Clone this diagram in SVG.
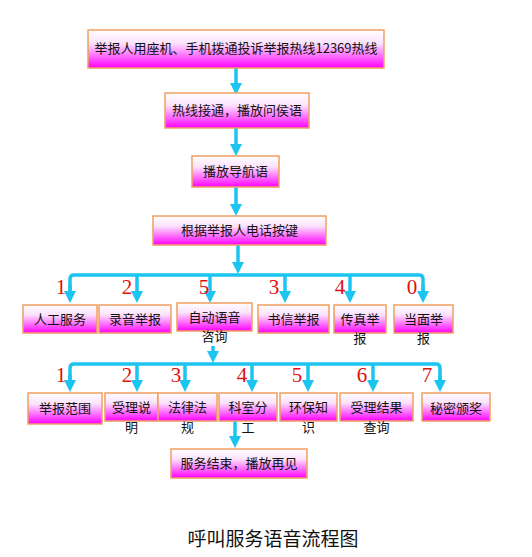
<svg xmlns="http://www.w3.org/2000/svg" width="532" height="557" viewBox="0 0 532 557">
<defs>
<linearGradient id="g" x1="0" y1="0" x2="0" y2="1">
<stop offset="0" stop-color="#ffffff"/>
<stop offset="0.35" stop-color="#fbe2fb"/>
<stop offset="1" stop-color="#ff00ff"/>
</linearGradient>
<marker id="ah" markerUnits="userSpaceOnUse" markerWidth="12" markerHeight="12" refX="0" refY="6" orient="auto">
<path d="M0,0 L12,6 L0,12 z" fill="#1cc4f0"/>
</marker>
<style>
.b{fill:url(#g);stroke:#f0a060;stroke-width:1.5}
.t{font-family:"Noto Sans CJK SC","Liberation Sans",sans-serif;font-size:13px;fill:#111;text-anchor:middle}
.n{font-family:"Liberation Serif",serif;font-size:21px;fill:#e01010;text-anchor:middle}
.c{fill:none;stroke:#1cc4f0;stroke-width:3.5}
.a{fill:none;stroke:#1cc4f0;stroke-width:3.5;marker-end:url(#ah)}
</style>
</defs>
<rect width="532" height="557" fill="#ffffff"/>
<g id="connectors">
<path class="a" d="M236,68 V83"/>
<path class="a" d="M236,128 V144"/>
<path class="a" d="M236,187 V204"/>
<path class="a" d="M238,245 V262"/>
<path class="c" d="M70,291 V279 Q70,275 74,275 H419 Q423,275 423,279 V291"/>
<path class="a" d="M70,285 V291"/>
<path class="a" d="M137,275 V291"/>
<path class="a" d="M210,275 V291"/>
<path class="a" d="M285,275 V291"/>
<path class="a" d="M350,275 V291"/>
<path class="a" d="M423,285 V291"/>
<path class="a" d="M213,346 V351"/>
<path class="c" d="M70,380 V368 Q70,364 74,364 H436 Q440,364 440,368 V380"/>
<path class="a" d="M70,375 V380"/>
<path class="a" d="M137,364 V380"/>
<path class="a" d="M185,364 V380"/>
<path class="a" d="M252,364 V380"/>
<path class="a" d="M308,364 V380"/>
<path class="a" d="M373,364 V380"/>
<path class="a" d="M440,375 V380"/>
<path class="a" d="M235,421 V436"/>
</g>
<g id="n-start"><rect class="b" x="88" y="30" width="296" height="38"/><text class="t" x="236" y="53">举报人用座机、手机拨通投诉举报热线12369热线</text></g>
<g id="n-connect"><rect class="b" x="165" y="93" width="144" height="35"/><text class="t" x="237" y="115">热线接通，播放问侯语</text></g>
<g id="n-nav"><rect class="b" x="192" y="156" width="87" height="31"/><text class="t" x="235.5" y="176">播放导航语</text></g>
<g id="n-key"><rect class="b" x="153" y="216" width="173" height="29"/><text class="t" x="239.5" y="235">根据举报人电话按键</text></g>
<g id="labels1">
<text class="n" x="61" y="294">1</text>
<text class="n" x="127" y="294">2</text>
<text class="n" x="204" y="294">5</text>
<text class="n" x="274" y="294">3</text>
<text class="n" x="340" y="294">4</text>
<text class="n" x="412" y="294">0</text>
</g>
<g id="n-manual"><rect class="b" x="23" y="305" width="74" height="28"/><text class="t" x="60" y="324">人工服务</text></g>
<g id="n-record"><rect class="b" x="99" y="305" width="72" height="28"/><text class="t" x="135" y="324">录音举报</text></g>
<g id="n-auto"><rect class="b" x="177" y="303" width="75" height="28"/><text class="t" x="214.5" y="322">自动语音</text><text class="t" x="214.5" y="341">咨询</text></g>
<g id="n-letter"><rect class="b" x="258" y="305" width="71" height="28"/><text class="t" x="293.5" y="324">书信举报</text></g>
<g id="n-fax"><rect class="b" x="334" y="305" width="52" height="28"/><text class="t" x="360" y="324">传真举</text><text class="t" x="360" y="343">报</text></g>
<g id="n-face"><rect class="b" x="394" y="305" width="59" height="28"/><text class="t" x="423.5" y="324">当面举</text><text class="t" x="423.5" y="343">报</text></g>
<g id="labels2">
<text class="n" x="61" y="382">1</text>
<text class="n" x="127" y="382">2</text>
<text class="n" x="176" y="382">3</text>
<text class="n" x="242" y="382">4</text>
<text class="n" x="297" y="382">5</text>
<text class="n" x="362" y="382">6</text>
<text class="n" x="427" y="382">7</text>
</g>
<g id="n-scope"><rect class="b" x="28" y="393" width="74" height="31"/><text class="t" x="65" y="413">举报范围</text></g>
<g id="n-accept"><rect class="b" x="105" y="393" width="53" height="28"/><text class="t" x="131.5" y="412">受理说</text><text class="t" x="131.5" y="432">明</text></g>
<g id="n-law"><rect class="b" x="158" y="393" width="59" height="28"/><text class="t" x="187.5" y="412">法律法</text><text class="t" x="187.5" y="432">规</text></g>
<g id="n-dept"><rect class="b" x="219" y="393" width="58" height="28"/><text class="t" x="248" y="412">科室分</text><text class="t" x="248" y="432">工</text></g>
<g id="n-env"><rect class="b" x="280" y="393" width="57" height="28"/><text class="t" x="308.5" y="412">环保知</text><text class="t" x="308.5" y="432">识</text></g>
<g id="n-result"><rect class="b" x="340" y="393" width="73" height="28"/><text class="t" x="376.5" y="412">受理结果</text><text class="t" x="376.5" y="432">查询</text></g>
<g id="n-reward"><rect class="b" x="422" y="393" width="68" height="28"/><text class="t" x="456" y="413">秘密颁奖</text></g>
<g id="n-end"><rect class="b" x="171" y="449" width="136" height="29"/><text class="t" x="239" y="468">服务结束，播放再见</text></g>
<text x="273" y="546" style="font-family:'Noto Sans CJK SC',sans-serif;font-size:19px;fill:#111;text-anchor:middle">呼叫服务语音流程图</text>
</svg>
